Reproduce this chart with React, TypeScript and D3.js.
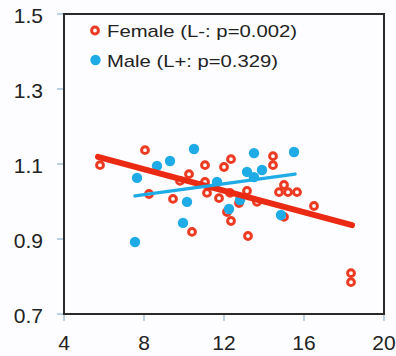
import React from "react";
import * as d3 from "d3";

const xTicks = [4, 8, 12, 16, 20];
const yTicks = [0.7, 0.9, 1.1, 1.3, 1.5];
const yTickLabels = ["0.7", "0.9", "1.1", "1.3", "1.5"];

const femaleX = [5.8, 8.05, 8.25, 9.45, 9.8, 10.25, 10.4, 11.05, 11.05, 11.15, 11.75, 12.0, 12.35, 12.3, 12.15, 12.35, 12.75, 13.15, 13.2, 13.65, 14.45, 14.45, 15.0, 14.75, 15.2, 15.65, 15.0, 16.5, 18.35, 18.35];
const femaleY = [1.097, 1.137, 1.02, 1.007, 1.055, 1.073, 0.919, 1.097, 1.052, 1.023, 1.009, 1.092, 1.113, 1.023, 0.972, 0.948, 0.996, 1.028, 0.908, 0.999, 1.121, 1.097, 1.044, 1.025, 1.025, 1.025, 0.959, 0.988, 0.809, 0.785];

const maleX = [7.55, 7.65, 8.65, 9.3, 10.5, 10.15, 9.95, 11.65, 12.25, 12.8, 13.5, 15.5, 13.15, 13.9, 13.5, 14.85];
const maleY = [0.892, 1.063, 1.095, 1.108, 1.14, 0.999, 0.943, 1.052, 0.98, 1.004, 1.129, 1.132, 1.079, 1.084, 1.065, 0.964];

const femaleLineX = [5.7, 18.4];
const femaleLineY = [1.119, 0.937];
const maleLineX = [7.55, 15.55];
const maleLineY = [1.015, 1.073];

const legendLabels = ["Female (L-: p=0.002)", "Male (L+: p=0.329)"];

const RED = "#ec3b22";
const BLUE = "#1eabe6";

export default function App() {
  const W = 396, H = 356;
  const x = d3.scaleLinear().domain([4, 20]).range([64, 384]);
  const y = d3.scaleLinear().domain([0.7, 1.5]).range([314, 14]);
  const line = d3.line<[number, number]>().x(d => x(d[0])).y(d => y(d[1]));
  const fLine = femaleLineX.map((v, i) => [v, femaleLineY[i]] as [number, number]);
  const mLine = maleLineX.map((v, i) => [v, maleLineY[i]] as [number, number]);
  const font = "'Liberation Sans', Arial, sans-serif";
  return (
    <svg width={W} height={H} style={{ position: "absolute", left: 0, top: 0, background: "#fdfdff" }}>
      <rect x={0} y={0} width={W} height={H} fill="#fdfdff" />
      {yTicks.map((t, i) => (
        <g key={"y" + i}>
          <line x1={57} x2={64} y1={y(t)} y2={y(t)} stroke="#8fb3d0" strokeWidth={1.2} />
          <text x={43} y={y(t) + 8.5} textAnchor="end" fontSize={21} fontFamily={font} fill="#222">{yTickLabels[i]}</text>
        </g>
      ))}
      {xTicks.map((t, i) => (
        <g key={"x" + i}>
          <line x1={x(t)} x2={x(t)} y1={314} y2={321} stroke="#8fb3d0" strokeWidth={1.2} />
          <text x={x(t)} y={350} textAnchor="middle" fontSize={21} fontFamily={font} fill="#222">{t}</text>
        </g>
      ))}
      {femaleX.map((v, i) => (
        <circle key={"f" + i} cx={x(v)} cy={y(femaleY[i])} r={3.4} fill="none" stroke={RED} strokeWidth={3} />
      ))}
      {maleX.map((v, i) => (
        <circle key={"m" + i} cx={x(v)} cy={y(maleY[i])} r={5.2} fill={BLUE} />
      ))}
      <path d={line(fLine) || ""} stroke="#ea2a12" strokeWidth={6} fill="none" strokeLinecap="round" />
      <path d={line(mLine) || ""} stroke={BLUE} strokeWidth={3.5} fill="none" strokeLinecap="round" />
      <rect x={64} y={14} width={320} height={300} fill="none" stroke="#2a2a2a" strokeWidth={2} />
      <circle cx={95} cy={30.5} r={3.4} fill="none" stroke={RED} strokeWidth={3} />
      <text x={107} y={37} fontSize={17} fontFamily={font} fill="#222" textLength={190} lengthAdjust="spacingAndGlyphs">{legendLabels[0]}</text>
      <circle cx={95.5} cy={60} r={5.2} fill={BLUE} />
      <text x={107} y={67} fontSize={17} fontFamily={font} fill="#222" textLength={171} lengthAdjust="spacingAndGlyphs">{legendLabels[1]}</text>
    </svg>
  );
}
